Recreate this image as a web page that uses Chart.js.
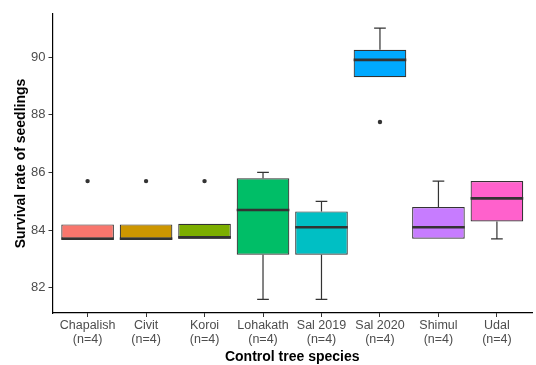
<!DOCTYPE html>
<html>
<head>
<meta charset="utf-8">
<script src="https://cdn.jsdelivr.net/npm/chart.js@4/dist/chart.umd.min.js"></script>
<style>
  html, body { margin: 0; padding: 0; background: #fff; }
  #wrap { width: 536px; height: 365px; position: relative; }
</style>
</head>
<body>
<div id="wrap"><canvas id="chart"></canvas></div>
<script>
// Box plot stats per species
const species = ['Chapalish', 'Civit', 'Koroi', 'Lohakath', 'Sal 2019', 'Sal 2020', 'Shimul', 'Udal'];
const counts = [4, 4, 4, 4, 4, 4, 4, 4];
const whiskerLow = [83.7, 83.7, 83.7, 81.6, 81.6, 89.3, 83.7, 83.7];
const q1 = [83.7, 83.7, 83.7, 83.15, 83.15, 89.3, 83.7, 84.3];
const median = [83.7, 83.7, 83.75, 84.7, 84.1, 89.9, 84.1, 85.1];
const q3 = [84.2, 84.2, 84.22, 85.8, 84.65, 90.25, 84.8, 85.7];
const whiskerHigh = [84.2, 84.2, 84.22, 86.0, 85.0, 91.0, 85.7, 85.7];
const outliers = [[85.7], [85.7], [85.7], [], [], [87.75], [], []];
const fills = ['#F8766D', '#CD9600', '#7CAE00', '#00BE67', '#00BFC4', '#00A9FF', '#C77CFF', '#FF61CC'];
const yTicks = [82, 84, 86, 88, 90];

const ink = '#333333';
const FONT = '"Liberation Sans", Arial, sans-serif';

// whiskers + caps go under the boxes, medians on top
const boxExtras = {
    id: 'boxExtras',
    beforeDatasetsDraw(chart) {
        const { ctx, scales: { x, y } } = chart;
        const capHalf = (x.getPixelForValue(1.1) - x.getPixelForValue(1));
        ctx.save();
        ctx.strokeStyle = ink;
        ctx.lineWidth = 1.2;
        species.forEach((s, i) => {
            const cx = x.getPixelForValue(i + 1);
            const pairs = [[whiskerLow[i], q1[i]], [whiskerHigh[i], q3[i]]];
            pairs.forEach(([end, edge]) => {
                if (end === edge) return; // nothing sticks out of the box
                const ye = y.getPixelForValue(end);
                ctx.beginPath();
                ctx.moveTo(cx, ye);
                ctx.lineTo(cx, y.getPixelForValue(edge));
                ctx.moveTo(cx - capHalf, ye);
                ctx.lineTo(cx + capHalf, ye);
                ctx.stroke();
            });
        });
        ctx.restore();
    },
    afterDatasetDraw(chart, args) {
        if (args.index !== 0) return;
        const { ctx, scales: { y } } = chart;
        const meta = chart.getDatasetMeta(0);
        ctx.save();
        ctx.strokeStyle = ink;
        ctx.lineWidth = 2.6;
        meta.data.forEach((bar, i) => {
            const yy = y.getPixelForValue(median[i]);
            ctx.beginPath();
            ctx.moveTo(bar.x - bar.width / 2, yy);
            ctx.lineTo(bar.x + bar.width / 2, yy);
            ctx.stroke();
        });
        ctx.restore();
    },
};

const outlierPoints = [];
outliers.forEach((list, i) => list.forEach((v) => outlierPoints.push({ x: i + 1, y: v })));

new Chart(document.getElementById('chart'), {
    type: 'bar',
    data: {
        datasets: [
            {
                data: species.map((s, i) => ({ x: i + 1, y: [q1[i], q3[i]] })),
                backgroundColor: fills,
                borderColor: ink,
                borderWidth: 1.2,
                borderSkipped: false,
                barPercentage: 0.9,
                categoryPercentage: 1.0,
                order: 2,
            },
            {
                type: 'scatter',
                data: outlierPoints,
                pointRadius: 2.2,
                pointBackgroundColor: ink,
                pointBorderWidth: 0,
                order: 1,
            },
        ],
    },
    options: {
        responsive: true,
        maintainAspectRatio: false,
        animation: false,
        events: [],
        layout: { padding: { top: 14, right: 2, left: 0, bottom: 0 } },
        plugins: { legend: { display: false }, tooltip: { enabled: false } },
        scales: {
            x: {
                type: 'linear',
                offset: false,
                min: 0.4,
                max: 8.6,
                afterBuildTicks: (scale) => {
                    scale.ticks = species.map((s, i) => ({ value: i + 1 }));
                },
                afterFit: (scale) => { scale.height = 52; },
                ticks: {
                    autoSkip: false,
                    maxRotation: 0,
                    padding: 2,
                    color: '#4D4D4D',
                    font: { family: FONT, size: 12.5, lineHeight: 1.12 },
                    callback: (v) => [species[v - 1], `(n=${counts[v - 1]})`],
                },
                grid: { display: true, offset: false, drawOnChartArea: false, drawTicks: true, tickLength: 4, color: ink, lineWidth: 1 },
                border: { display: true, color: '#000', width: 1.2 },
                title: {
                    display: true,
                    text: 'Control tree species',
                    color: '#000',
                    font: { family: FONT, size: 14, weight: 'bold', lineHeight: 1.1 },
                    padding: { top: 0, bottom: 0 },
                },
            },
            y: {
                min: 81.129,
                max: 91.491,
                afterBuildTicks: (scale) => {
                    scale.ticks = yTicks.map((v) => ({ value: v }));
                },
                afterFit: (scale) => { scale.width = 52.5; },
                ticks: {
                    padding: 3,
                    color: '#4D4D4D',
                    font: { family: FONT, size: 13 },
                },
                grid: { display: true, drawOnChartArea: false, drawTicks: true, tickLength: 4, color: ink, lineWidth: 1 },
                border: { display: true, color: '#000', width: 1.2 },
                title: {
                    display: true,
                    text: 'Survival rate of seedlings',
                    color: '#000',
                    font: { family: FONT, size: 14, weight: 'bold' },
                    padding: { top: 13, bottom: 0 },
                },
            },
        },
    },
    plugins: [boxExtras],
});
</script>
</body>
</html>
